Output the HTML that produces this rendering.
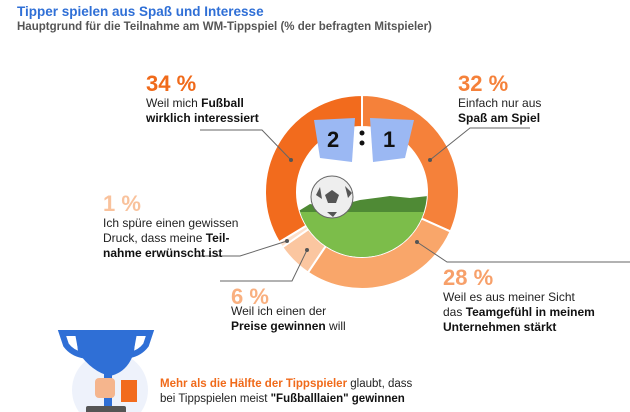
<!DOCTYPE html>
<html><head><meta charset="utf-8"><style>
body{margin:0;width:630px;height:412px;background:#fff;font-family:"Liberation Sans",sans-serif;position:relative;overflow:hidden}
.t{position:absolute;white-space:nowrap}
.pct{font-size:22px;font-weight:bold;line-height:24px}
.lab{font-size:12px;line-height:15px;color:#222}
b{color:#111}
</style></head><body>
<div class="t" style="left:17px;top:4px;font-size:13.5px;font-weight:bold;color:#2f6fd6">Tipper spielen aus Spaß und Interesse</div>
<div class="t" style="left:17px;top:21px;font-size:11.5px;font-weight:bold;color:#555">Hauptgrund für die Teilnahme am WM-Tippspiel (% der befragten Mitspieler)</div>

<svg id="chart" width="630" height="412" style="position:absolute;left:0;top:0">
<g id="slices"></g>
<g id="center-art">
<clipPath id="ic"><circle cx="362" cy="192" r="65"/></clipPath>
<g clip-path="url(#ic)">
<rect x="290" y="120" width="150" height="150" fill="#fff"/>
<path d="M297 212 L310 204 L330 208 L360 200 L390 196 L410 198 L428 196 L428 260 L297 260Z" fill="#4f8a35"/>
<rect x="290" y="212" width="150" height="60" fill="#7cbd4a"/>
</g>
<circle cx="332" cy="197" r="21" fill="#eee" stroke="#666" stroke-width="1"/>
<polygon points="332,190 339,195 336,203 328,203 325,195" fill="#555"/>
<polygon points="316,195 320,187 322,199" fill="#555"/>
<polygon points="345,186 352,193 348,198" fill="#555"/>
<polygon points="327,212 337,212 333,217" fill="#555"/>
<polygon points="314,120 355,118 352,162 320,158" fill="#9bb8f3"/>
<polygon points="370,118 414,120 405,158 373,162" fill="#9bb8f3"/>
<text x="327" y="147" font-size="22" font-weight="bold" fill="#111" font-family="Liberation Sans">2</text>
<text x="383" y="147" font-size="22" font-weight="bold" fill="#111" font-family="Liberation Sans">1</text>
<circle cx="362" cy="133" r="2.5" fill="#111"/><circle cx="362" cy="143" r="2.5" fill="#111"/>
</g>
<g stroke="#666" stroke-width="1" fill="none">
<polyline points="200,130 262,130 291,160"/>
<polyline points="530,128 470,128 430,160"/>
<polyline points="650,262 447,262 417,242"/>
<polyline points="220,281 292,281 307,250"/>
<polyline points="195,256 240,256 287,241"/>
</g>
<g fill="#555"><circle cx="291" cy="160" r="2"/><circle cx="430" cy="160" r="2"/><circle cx="417" cy="242" r="2"/><circle cx="307" cy="250" r="2"/><circle cx="287" cy="241" r="2"/></g>
<g id="trophy">
<circle cx="110" cy="390" r="38" fill="#eef2fb"/>
<path d="M62 333 L78 333 L82 355 Q72 353 66 345Z" fill="none" stroke="#2f6fd6" stroke-width="6"/>
<path d="M150 333 L134 333 L130 355 Q140 353 146 345Z" fill="none" stroke="#2f6fd6" stroke-width="6"/>
<path d="M76 330 L136 330 L134 352 Q128 372 110 376 Q92 372 78 352Z" fill="#2f6fd6"/>
<rect x="104" y="374" width="8" height="32" fill="#2f6fd6"/>
<rect x="95" y="378" width="20" height="20" rx="4" fill="#f5b58d"/>
<rect x="121" y="380" width="16" height="22" fill="#f26b1d"/>
<rect x="86" y="406" width="40" height="8" rx="2" fill="#555"/>
</g>
</svg>

<div class="t pct" style="left:146px;top:72px;color:#f06a1a">34 %</div>
<div class="t lab" style="left:146px;top:96px">Weil mich <b>Fußball</b><br><b>wirklich interessiert</b></div>
<div class="t pct" style="left:458px;top:72px;color:#f5813a">32 %</div>
<div class="t lab" style="left:458px;top:96px">Einfach nur aus<br><b>Spaß am Spiel</b></div>
<div class="t pct" style="left:103px;top:192px;color:#f9c29c">1 %</div>
<div class="t lab" style="left:103px;top:216px">Ich spüre einen gewissen<br>Druck, dass meine <b>Teil-</b><br><b>nahme erwünscht ist</b></div>
<div class="t pct" style="left:231px;top:285px;color:#f9b080">6 %</div>
<div class="t lab" style="left:231px;top:304px">Weil ich einen der<br><b>Preise gewinnen</b> will</div>
<div class="t pct" style="left:443px;top:266px;color:#f7a06a">28 %</div>
<div class="t lab" style="left:443px;top:290px">Weil es aus meiner Sicht<br>das <b>Teamgefühl in meinem</b><br><b>Unternehmen stärkt</b></div>
<div class="t lab" style="left:160px;top:377px;font-size:11.5px"><b style="color:#f06a1a">Mehr als die Hälfte der Tippspieler</b> glaubt, dass<br>bei Tippspielen meist <b>"Fußballlaien" gewinnen</b></div>

<script>
const categories = ["Spaß am Spiel", "Teamgefühl", "Preise", "Druck", "Fußball-Interesse"];
const values = [32, 28, 6, 1, 34];
const colors = ["#f5813a", "#f9a66a", "#fbc6a0", "#fde0cb", "#f26b1d"];
const cx = 362, cy = 192, R = 97, r = 65;
const total = values.reduce((a, b) => a + b, 0);
const g = document.getElementById('slices');
function pt(a, rad) { return [cx + rad * Math.sin(a), cy - rad * Math.cos(a)]; }
let acc = 0;
values.forEach((v, i) => {
  const a0 = acc / total * 2 * Math.PI; acc += v;
  const a1 = acc / total * 2 * Math.PI;
  const large = (a1 - a0) > Math.PI ? 1 : 0;
  const [x0, y0] = pt(a0, R), [x1, y1] = pt(a1, R), [x2, y2] = pt(a1, r), [x3, y3] = pt(a0, r);
  const p = document.createElementNS('http://www.w3.org/2000/svg', 'path');
  p.setAttribute('d', `M${x0} ${y0} A${R} ${R} 0 ${large} 1 ${x1} ${y1} L${x2} ${y2} A${r} ${r} 0 ${large} 0 ${x3} ${y3}Z`);
  p.setAttribute('fill', colors[i]);
  p.setAttribute('stroke', '#fff');
  p.setAttribute('stroke-width', '2');
  
  
  g.appendChild(p);
});
</script>
</body></html>
